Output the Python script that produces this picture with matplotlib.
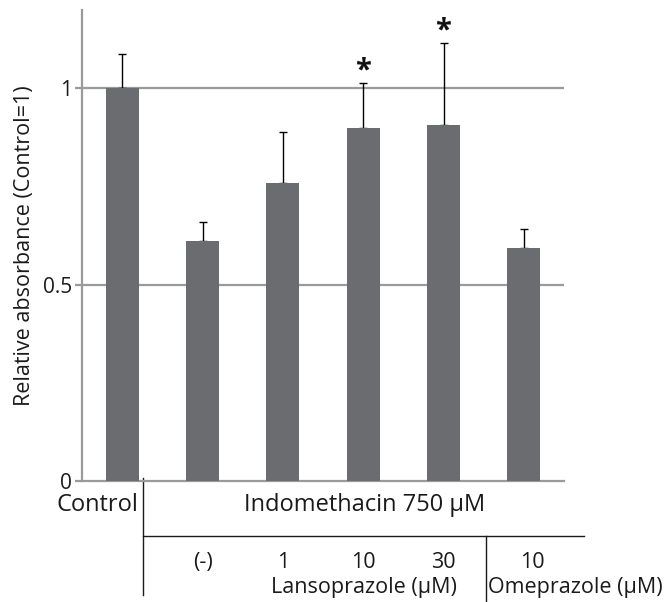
#bar chart of relative absorbance with grouped treatment labels under the axis
import matplotlib.pyplot as plt
import matplotlib.transforms as mtransforms

plt.rcParams['font.family'] = ['Open Sans', 'DejaVu Sans']

groups = ['Control', '(-)', '1', '10', '30', '10']
values = [1.0, 0.612, 0.758, 0.90, 0.906, 0.594]
errors = [0.087, 0.049, 0.130, 0.115, 0.211, 0.049]
significant = [False, False, False, True, True, False]

bar_color = '#6b6c70'
grid_color = '#9a9a9a'

fig = plt.figure(figsize=(6.68, 6.02), dpi=100)
ax = fig.add_axes([0.1228, 0.201, 0.7215, 0.7824])

x = list(range(len(values)))
ax.bar(x, values, width=0.41, color=bar_color, zorder=3)
ax.errorbar(x, values, yerr=[[0] * len(errors), errors], fmt='none',
            ecolor='black', elinewidth=1, capsize=3, capthick=1, zorder=2)

for xi, v, e, s in zip(x, values, errors, significant):
    if s:
        ax.annotate('*', (xi, v + e), xytext=(0, -2), textcoords='offset points',
                    ha='center', va='bottom', fontsize=21, fontweight='bold', color='#111111')

ax.set_xlim(-0.5, 5.5)
ax.set_ylim(0, 1.2)
ax.set_yticks([0, 0.5, 1])
ax.set_yticklabels(['0', '0.5', '1'])
ax.set_xticks([])
for yv in [0.5, 1.0]:
    ax.axhline(yv, color=grid_color, lw=1.6, zorder=1)

for side in ['top', 'right']:
    ax.spines[side].set_visible(False)
ax.spines['left'].set_color(grid_color)
ax.spines['left'].set_linewidth(1.6)
ax.spines['bottom'].set_color(grid_color)
ax.spines['bottom'].set_linewidth(1.6)
ax.tick_params(axis='y', colors=grid_color, length=5, width=1.6, labelsize=15, labelcolor='#1a1a1a', pad=2)
ax.set_ylabel('Relative absorbance (Control=1)', fontsize=15.5, color='#1a1a1a', labelpad=6)

# group labels below the axis
tr = mtransforms.blended_transform_factory(ax.transData, ax.transAxes)
line_kw = dict(color='#1a1a1a', lw=1, transform=tr, clip_on=False)
ax.plot([0.26, 0.26], [0.006, -0.242], **line_kw)
ax.plot([0.26, 5.75], [-0.117, -0.117], **line_kw)
ax.plot([4.53, 4.53], [-0.117, -0.257], **line_kw)

text_kw = dict(transform=tr, color='#1a1a1a', va='center')
ax.text(-0.31, -0.05, groups[0], ha='center', fontsize=17, **text_kw)
ax.text(3.02, -0.05, 'Indomethacin 750 μM', ha='center', fontsize=17, **text_kw)
label_x = [1, 2, 3, 4, 5.11]
for lx, g in zip(label_x, groups[1:]):
    ax.text(lx, -0.174, g, ha='center', fontsize=15.5, **text_kw)
ax.text(3.01, -0.227, 'Lansoprazole (μM)', ha='center', fontsize=15.5, **text_kw)
ax.text(4.56, -0.227, 'Omeprazole (μM)', ha='left', fontsize=15.5, **text_kw)

fig.savefig('out.png', dpi=100)
